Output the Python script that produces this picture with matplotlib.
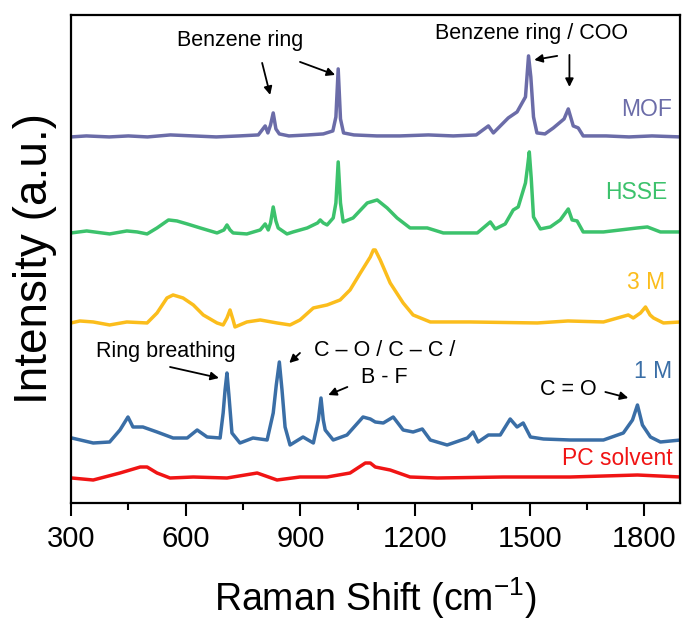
import matplotlib
matplotlib.use('Agg')
import matplotlib.pyplot as plt

# Raman spectra, each relative to its own baseline
mof_x = [300, 340, 400, 450, 500, 560, 620, 680, 740, 790, 808, 815, 822, 829, 836, 845, 870, 920, 960, 985,
         993, 999, 1005, 1013, 1040, 1100, 1160, 1235, 1300, 1360, 1392, 1405, 1444, 1467, 1489, 1497, 1503,
         1510, 1519, 1540, 1562, 1590, 1601, 1614, 1627, 1640, 1700, 1760, 1820, 1895]
mof_y = [0, 1, 0, 1, 0, 2, 1, 0, 1, 2, 11, 4, 12, 24, 8, 3, 1, 2, 3, 6,
         20, 68, 18, 4, 2, 1, 1, 2, 1, 2, 11, 4, 19, 25, 40, 81, 60,
         20, 4, 3, 9, 18, 28, 11, 9, 1, 1, 0, 1, 0]

hsse_x = [300, 341, 401, 446, 473, 499, 525, 555, 577, 604, 638, 682, 700, 708, 716, 724, 760, 795, 808, 816,
          822, 829, 836, 842, 865, 881, 918, 945, 952, 960, 970, 986, 993, 999, 1005, 1012, 1038, 1075, 1101,
          1127, 1153, 1187, 1232, 1274, 1363, 1397, 1410, 1436, 1457, 1470, 1489, 1494, 1499, 1504, 1510, 1528,
          1554, 1580, 1601, 1611, 1624, 1640, 1693, 1782, 1808, 1842, 1895]
hsse_y = [0, 2, -1, 2, 1, -1, 5, 13, 12, 9, 5, 0, 3, 8, 3, 0, -1, 3, 9, 3,
          10, 26, 12, 5, -1, 1, 5, 10, 13, 10, 8, 15, 30, 71, 30, 11, 15, 30, 33,
          25, 15, 5, 5, 0, 0, 11, 4, 9, 23, 26, 50, 65, 81, 55, 16, 4,
          6, 13, 24, 13, 12, 1, 1, 5, 6, 1, 1]

m3_x = [300, 323, 358, 401, 446, 499, 525, 551, 567, 593, 620, 646, 682, 698, 708, 716, 724, 729, 760, 795,
        839, 873, 899, 934, 970, 1004, 1030, 1057, 1083, 1091, 1096, 1109, 1135, 1169, 1195, 1240, 1344, 1520,
        1600, 1693, 1758, 1771, 1790, 1803, 1815, 1824, 1850, 1895]
m3_y = [0, 2, 1, -2, 1, 0, 10, 25, 28, 25, 18, 8, 0, -2, 5, 13, 3, -4, 1, 3,
        0, -2, 3, 15, 18, 23, 33, 50, 66, 73, 73, 63, 40, 20, 8, 1, 1, 0,
        2, 1, 8, 5, 10, 16, 8, 5, 0, 1]

m1_x = [302, 358, 401, 428, 449, 462, 488, 525, 567, 604, 630, 656, 690, 698, 703, 708, 713, 721, 742, 776,
        813, 829, 837, 845, 852, 860, 873, 907, 934, 947, 954, 960, 965, 986, 1022, 1064, 1083, 1096, 1117,
        1143, 1169, 1195, 1219, 1240, 1284, 1337, 1352, 1365, 1392, 1423, 1449, 1467, 1483, 1502, 1536, 1606,
        1693, 1745, 1769, 1782, 1795, 1816, 1842, 1895]
m1_y = [2, -3, -2, 10, 23, 13, 13, 8, 2, 2, 10, 3, 2, 27, 50, 67, 45, 7, -3, 2,
        0, 27, 55, 78, 50, 13, -5, 3, -3, 20, 42, 20, 10, 0, 5, 23, 21, 18, 17,
        23, 10, 8, 11, 0, -5, 2, 8, -2, 5, 5, 21, 13, 17, 3, 1, 0,
        0, 7, 20, 35, 15, 3, -2, 0]

pc_x = [302, 358, 428, 481, 499, 525, 559, 620, 708, 787, 839, 899, 970, 1030, 1070, 1083, 1096, 1135, 1187,
        1258, 1431, 1606, 1782, 1895]
pc_y = [0, -2, 5, 11, 11, 5, 0, 1, 0, 5, -2, 1, 1, 5, 15, 15, 11, 8, 1,
        0, 1, 1, 3, 1]

names = ['MOF', 'HSSE', '3 M', '1 M', 'PC solvent']
offsets = [366, 270, 180, 63, 25]
colors = ['#6b6ca8', '#3cc26c', '#fbbd1c', '#3a6ea6', '#f01414']

plt.rcParams['font.family'] = ['Liberation Sans', 'DejaVu Sans']
plt.rcParams['mathtext.fontset'] = 'custom'
plt.rcParams['mathtext.rm'] = 'Liberation Sans'
plt.rcParams['mathtext.it'] = 'Liberation Sans:italic'

fig = plt.figure(figsize=(6.83, 6.21), dpi=100)
ax = fig.add_axes([0.104, 0.19, 0.892, 0.786])

series = [(mof_x, mof_y), (hsse_x, hsse_y), (m3_x, m3_y), (m1_x, m1_y), (pc_x, pc_y)]
for (x, y), off, c in zip(series, offsets, colors):
    ax.plot(x, [v + off for v in y], color=c, lw=2.5, solid_joinstyle='round')

# series labels
label_pos = [(1873, 393), (1860, 310), (1855, 220), (1873, 131), (1873, 45)]
for name, (lx, ly), c in zip(names, label_pos, colors):
    ax.text(lx, ly, name, color=c, fontsize=16.5, ha='right', va='center')

# peak assignments
ax.text(742, 462, 'Benzene ring', fontsize=15.5, ha='center', va='center')
ax.text(1504, 469, 'Benzene ring / COO', fontsize=15.5, ha='center', va='center')
ax.text(549, 151, 'Ring breathing', fontsize=15.5, ha='center', va='center')
ax.text(1120, 139, 'C \u2013 O / C \u2013 C /\nB - F', fontsize=15.5, ha='center', va='center',
        multialignment='center', linespacing=1.35)
ax.text(1601, 113, 'C = O', fontsize=15.5, ha='center', va='center')

arrows = [((800, 440), (821, 408)), ((899, 441), (991, 428)),
          ((1572, 447), (1512, 443)), ((1604, 448), (1604, 416)),
          ((559, 136), (687, 125)), ((899, 150), (871, 140)),
          ((1023, 116), (973, 108)), ((1698, 111), (1758, 105))]
for tail, tip in arrows:
    ax.annotate('', xy=tip, xytext=tail,
                arrowprops=dict(arrowstyle='-|>', color='black', lw=1.3, mutation_scale=12,
                                shrinkA=0, shrinkB=0))

ax.set_xlim(300, 1894)
ax.set_ylim(0, 488)
ax.set_xticks([300, 600, 900, 1200, 1500, 1800])
ax.set_xticks([450, 750, 1050, 1350, 1650], minor=True)
ax.set_yticks([])
ax.tick_params(axis='x', which='major', direction='out', length=9, width=1.5, labelsize=21, pad=7)
ax.tick_params(axis='x', which='minor', direction='out', length=5, width=1.5)
for s in ax.spines.values():
    s.set_linewidth(1.6)

ax.set_xlabel('Raman Shift (cm$^{-1}$)', fontsize=27, labelpad=16)
ax.set_ylabel('Intensity (a.u.)', fontsize=33, labelpad=10)

fig.savefig('out.png', dpi=100)
